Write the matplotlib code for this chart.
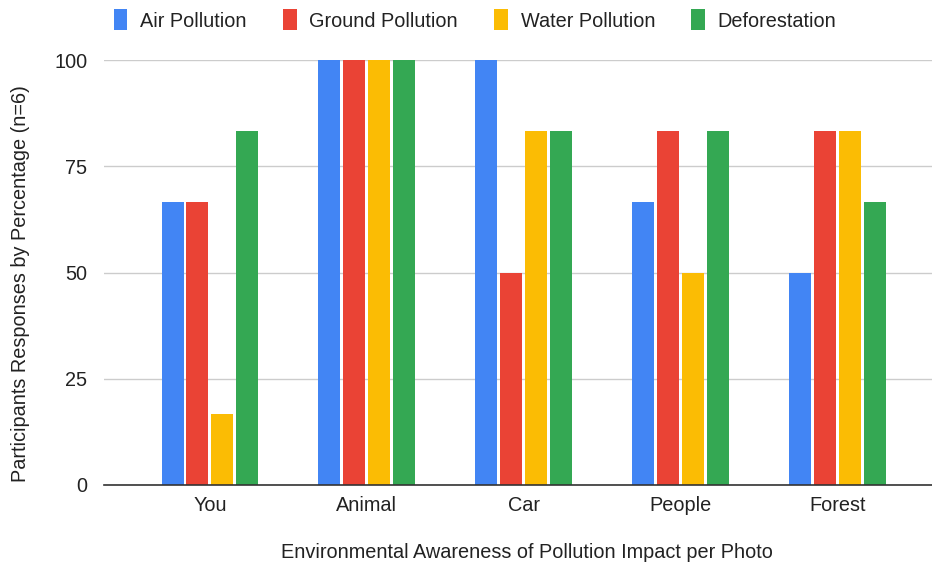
import matplotlib
matplotlib.use("Agg")
import matplotlib.pyplot as plt
import numpy as np

categories = ["You", "Animal", "Car", "People", "Forest"]
series_names = ["Air Pollution", "Ground Pollution", "Water Pollution", "Deforestation"]
air = [66.7, 100, 100, 66.7, 50]
ground = [66.7, 100, 50, 83.3, 83.3]
water = [16.7, 100, 83.3, 50, 83.3]
deforestation = [83.3, 100, 83.3, 83.3, 66.7]
yticks = [0, 25, 50, 75, 100]

colors = ["#4285F4", "#EA4335", "#FBBC04", "#34A853"]

plt.rcParams["font.family"] = ["Liberation Sans", "DejaVu Sans"]
FS = 14.3

fig = plt.figure(figsize=(9.32, 5.65), dpi=100)
ax = fig.add_axes([104 / 932, 1 - 485 / 565, 1 - 104 / 932, (485 - 60) / 565])

x = np.arange(len(categories))
width = 0.14
step = 0.159
all_series = [air, ground, water, deforestation]
for i, (vals, name, c) in enumerate(zip(all_series, series_names, colors)):
    ax.bar(x + (i - 1.5) * step, vals, width=width, color=c, label=name, zorder=3)

ax.set_xlim(-0.675, 4.6)
ax.set_ylim(0, 100)
ax.set_yticks(yticks)
ax.set_xticks(x)
ax.set_xticklabels(categories)
ax.grid(axis="y", color="#cccccc", linewidth=1, zorder=0)
for s in ["top", "right", "left"]:
    ax.spines[s].set_visible(False)
ax.spines["bottom"].set_color("#333333")
ax.spines["bottom"].set_linewidth(1.2)
ax.spines["bottom"].set_zorder(4)
ax.tick_params(axis="both", length=0, labelsize=FS, labelcolor="#222222")
ax.tick_params(axis="x", pad=8)
ax.tick_params(axis="y", pad=12)

fig.text(21 / 932, 1 - 284 / 565, "Participants Responses by Percentage (n=6)", rotation=90,
         ha="center", va="center", fontsize=FS, color="#222222")
fig.text(527 / 932, 1 - 552 / 565, "Environmental Awareness of Pollution Impact per Photo",
         ha="center", va="center", fontsize=FS, color="#222222")

fig.legend(loc="center", bbox_to_anchor=(475 / 932, 1 - 20 / 565), ncol=4, frameon=False,
           fontsize=FS, handlelength=0.7, handleheight=1.25, handletextpad=0.65,
           columnspacing=1.8, labelcolor="#222222")

fig.savefig("out.png", dpi=100)
